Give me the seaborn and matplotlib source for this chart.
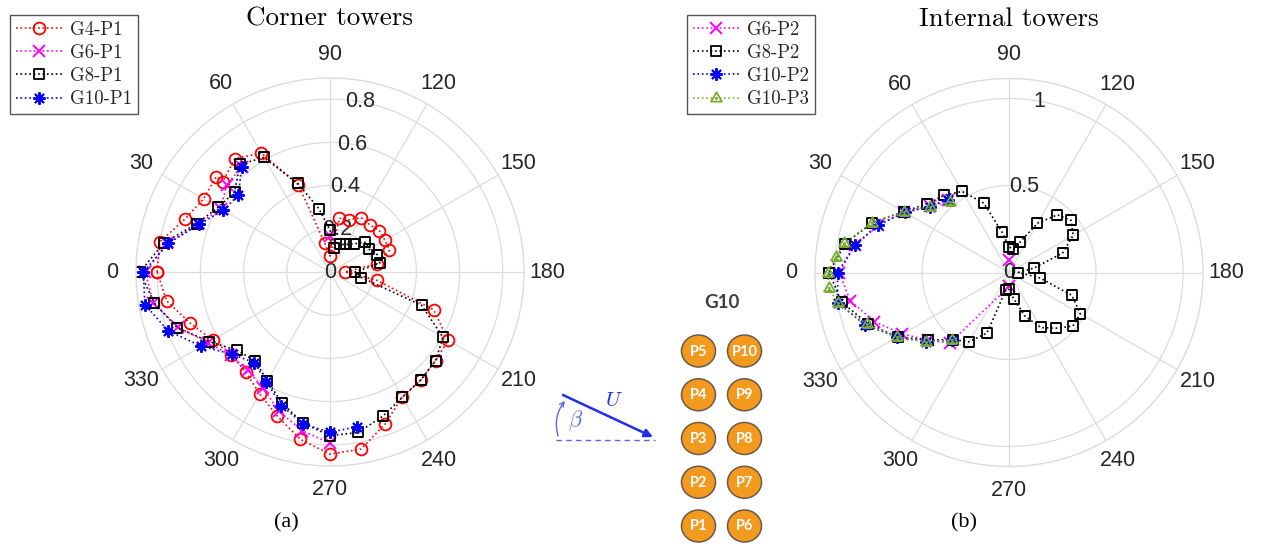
import numpy as np
import pandas as pd
import matplotlib
matplotlib.use("Agg")
import matplotlib.pyplot as plt
from matplotlib.path import Path
from matplotlib.patches import Ellipse
import seaborn as sns

sns.set_theme(style="white")
plt.rcParams["font.family"] = ["Liberation Sans", "DejaVu Sans"]
plt.rcParams["mathtext.fontset"] = "cm"
plt.rcParams["axes.unicode_minus"] = False

# ---------------- data: wind angle beta (deg) and normalised response ----------------
full_beta = list(range(0, 361, 10))

# Corner towers
g4_p1_beta = [0, 10, 20, 30, 40, 40, 50, 60, 70, 80, 90, 100, 110, 120, 130, 140, 150, 160,
              170, 180, 190, 200, 210, 220, 230, 240, 250, 260, 270, 280, 290, 300, 310,
              320, 330, 340, 350, 360]
g4_p1_r = [0.80, 0.80, 0.715, 0.676, 0.687, 0.649, 0.685, 0.635, 0.43, 0.134, 0.074, 0.253,
           0.257, 0.29, 0.286, 0.298, 0.294, 0.293, 0.22, 0.069, 0.22, 0.51, 0.632, 0.638,
           0.653, 0.668, 0.748, 0.832, 0.843, 0.787, 0.711, 0.651, 0.606, 0.596, 0.628,
           0.69, 0.768, 0.80]

g6_p1_beta = [-90, -80, -70, -60, -50, -40, -30, -20, -10, 0, 10, 20, 30, 40, 50, 90]
g6_p1_r = [0.793, 0.745, 0.687, 0.62, 0.593, 0.60, 0.653, 0.748, 0.83, 0.855, 0.765, 0.648,
           0.585, 0.625, 0.636, 0.168]
g6_p1_seg = [0] * 15 + [1]

g8_p1_beta = full_beta
g8_p1_r = [0.88, 0.78, 0.656, 0.598, 0.576, 0.65, 0.612, 0.436, 0.298, 0.194, 0.115, 0.136,
           0.147, 0.17, 0.214, 0.21, 0.233, 0.234, 0.116, 0.148, 0.451, 0.604, 0.638, 0.653,
           0.67, 0.711, 0.754, 0.758, 0.711, 0.647, 0.581, 0.538, 0.563, 0.645, 0.753,
           0.826, 0.88]

g10_p1_beta = [-100, -90, -80, -70, -60, -50, -40, -30, -20, -10, 0, 10, 20, 30, 40, 50]
g10_p1_r = [0.727, 0.742, 0.714, 0.658, 0.588, 0.547, 0.592, 0.687, 0.797, 0.87, 0.864,
            0.76, 0.645, 0.57, 0.554, 0.636]

# Internal towers
g6_p2_beta = [90, -90, -50, -40, -30, -20, -10, 0, 10, 20, 30, 40, 50]
g6_p2_r = [0.072, 0.08, 0.53, 0.605, 0.707, 0.824, 0.928, 0.975, 0.90, 0.80, 0.695, 0.595,
           0.545]
g6_p2_seg = [0] + [1] * 12

g8_p2_beta = full_beta
g8_p2_r = [1.034, 0.957, 0.836, 0.70, 0.614, 0.58, 0.538, 0.424, 0.238, 0.148, 0.136, 0.187,
           0.327, 0.433, 0.466, 0.426, 0.328, 0.146, 0.054, 0.181, 0.385, 0.473, 0.479,
           0.418, 0.365, 0.266, 0.152, 0.097, 0.10, 0.37, 0.46, 0.503, 0.605, 0.739, 0.862,
           0.977, 1.034]

g10_p2_beta = [-50, -40, -30, -20, -10, 0, 10, 20, 30, 40, 50]
g10_p2_r = [0.506, 0.62, 0.743, 0.88, 1.0, 0.985, 0.90, 0.80, 0.69, 0.59, 0.545]

g10_p3_beta = [-50, -40, -30, -20, -10, -5, 0, 5, 10, 20, 30, 40, 50]
g10_p3_r = [0.506, 0.62, 0.74, 0.87, 1.0, 1.04, 1.04, 1.0, 0.963, 0.84, 0.70, 0.59, 0.53]

# axis ticks
theta_ticks = list(range(0, 360, 30))
corner_rticks = [0, 0.2, 0.4, 0.6, 0.8]
corner_rlabels = ["0", "0.2", "0.4", "0.6", "0.8"]
internal_rticks = [0, 0.5, 1]
internal_rlabels = ["0", "0.5", "1"]

# G10 layout schematic
tower_cols = [["P5", "P4", "P3", "P2", "P1"], ["P10", "P9", "P8", "P7", "P6"]]


# ---------------- markers ----------------
def dotted_marker(outer, d=0.09):
    """Closed outline with a tiny centre dot (drawn as a second sub-path)."""
    outer = list(outer)
    inner = [(-d, -d), (d, -d), (d, d), (-d, d)]
    verts = outer + [outer[0]] + inner + [inner[0]]
    codes = ([Path.MOVETO] + [Path.LINETO] * (len(outer) - 1) + [Path.CLOSEPOLY]
             + [Path.MOVETO] + [Path.LINETO] * 3 + [Path.CLOSEPOLY])
    return Path(verts, codes)


square_dot = dotted_marker([(-1, -1), (1, -1), (1, 1), (-1, 1)])
tri_dot = dotted_marker([(0, 1), (-0.866, -0.5), (0.866, -0.5)], d=0.08)

RED, MAG, BLK, BLU, GRN = "#ff0000", "#ff00ff", "#000000", "#0000ff", "#77ac30"
styles = {
    "G4-P1": dict(color=RED, marker="o", ms=8.5, mew=1.3),
    "G6-P1": dict(color=MAG, marker="x", ms=8.5, mew=1.4),
    "G8-P1": dict(color=BLK, marker=square_dot, ms=7.5, mew=1.3),
    "G10-P1": dict(color=BLU, marker=(8, 2, 0), ms=9, mew=1.4),
    "G6-P2": dict(color=MAG, marker="x", ms=8.5, mew=1.4),
    "G8-P2": dict(color=BLK, marker=square_dot, ms=7.5, mew=1.3),
    "G10-P2": dict(color=BLU, marker=(8, 2, 0), ms=9, mew=1.4),
    "G10-P3": dict(color=GRN, marker=tri_dot, ms=9, mew=1.3),
}


def draw_series(ax, name, beta, r, seg=None):
    st = styles[name]
    if seg is None:
        seg = [0] * len(beta)
    df = pd.DataFrame({"theta": np.deg2rad(beta), "r": r, "seg": seg})
    sns.lineplot(data=df, x="theta", y="r", units="seg", estimator=None, sort=False,
                 ax=ax, legend=False, color=st["color"], marker=st["marker"],
                 markersize=st["ms"], markerfacecolor="none", markeredgecolor=st["color"],
                 markeredgewidth=st["mew"], linestyle=":", linewidth=1.2, label=name)
    return ax.get_lines()[-1]


GRID = "#dcdcdc"
TXT = "#262626"


def style_polar(ax, rmax, rticks, rlabels):
    ax.set_theta_zero_location("W")
    ax.set_theta_direction(-1)
    ax.set_thetagrids(theta_ticks, [str(t) for t in theta_ticks])
    ax.set_ylim(0, rmax)
    ax.set_yticks(rticks[1:])
    ax.set_yticklabels([])
    ax.grid(True, color=GRID, linewidth=0.9)
    ax.spines["polar"].set_color(GRID)
    ax.spines["polar"].set_linewidth(1.0)
    ax.tick_params(axis="x", labelsize=15.5, labelcolor=TXT, pad=10, length=0)
    ax.tick_params(axis="y", length=0)
    ax.set_xlabel("")
    ax.set_ylabel("")
    for rv, lab in zip(rticks, rlabels):
        ax.text(np.deg2rad(100), rv, lab, ha="center", va="center", fontsize=15.5,
                color=TXT, zorder=1)


W, H = 1262, 550
fig = plt.figure(figsize=(W / 100, H / 100), dpi=100)

R_PX = 194
ax1 = fig.add_axes([(330 - R_PX) / W, (H - 272 - R_PX) / H, 2 * R_PX / W, 2 * R_PX / H],
                   projection="polar")
ax2 = fig.add_axes([(1009 - R_PX) / W, (H - 272.5 - R_PX) / H, 2 * R_PX / W, 2 * R_PX / H],
                   projection="polar")

h1 = [draw_series(ax1, "G4-P1", g4_p1_beta, g4_p1_r),
      draw_series(ax1, "G6-P1", g6_p1_beta, g6_p1_r, g6_p1_seg),
      draw_series(ax1, "G8-P1", g8_p1_beta, g8_p1_r),
      draw_series(ax1, "G10-P1", g10_p1_beta, g10_p1_r)]
h2 = [draw_series(ax2, "G6-P2", g6_p2_beta, g6_p2_r, g6_p2_seg),
      draw_series(ax2, "G8-P2", g8_p2_beta, g8_p2_r),
      draw_series(ax2, "G10-P2", g10_p2_beta, g10_p2_r),
      draw_series(ax2, "G10-P3", g10_p3_beta, g10_p3_r)]

style_polar(ax1, 0.898, corner_rticks, corner_rlabels)
style_polar(ax2, 1.115, internal_rticks, internal_rlabels)

title_y = 1 + 53 / 388
ax1.set_title("Corner towers", fontfamily="cmr10", fontsize=19.5, y=title_y, pad=0,
              color="#000000")
ax2.set_title("Internal towers", fontfamily="cmr10", fontsize=19.5, y=title_y, pad=0,
              color="#000000")

leg_kw = dict(loc="upper left", frameon=True, fancybox=False, borderaxespad=0,
              prop={"family": "cmr10", "size": 13.5}, handlelength=2.5,
              handletextpad=0.4, labelspacing=0.28, borderpad=0.3, framealpha=1)
lg1 = fig.legend(h1, [h.get_label() for h in h1], bbox_to_anchor=(10 / W, 1 - 15 / H),
                 **leg_kw)
lg2 = fig.legend(h2, [h.get_label() for h in h2], bbox_to_anchor=(687 / W, 1 - 15 / H),
                 **leg_kw)
for lg in (lg1, lg2):
    lg.get_frame().set_edgecolor("#555555")
    lg.get_frame().set_linewidth(1.0)

# ---------------- G10 layout schematic and wind direction ----------------
dg = fig.add_axes([540 / W, 0, 260 / W, 270 / H])
dg.set_xlim(540, 800)
dg.set_ylim(550, 280)
dg.axis("off")

col_x = [698.5, 744.5]
row_y0, row_dy = 351, 43.75
for cx, names in zip(col_x, tower_cols):
    for i, nm in enumerate(names):
        cy = row_y0 + i * row_dy
        dg.add_patch(Ellipse((cx, cy), 34, 32, facecolor="#f39a1e", edgecolor="#6a5a48",
                             linewidth=1.1))
        dg.text(cx, cy + 0.5, nm, ha="center", va="center", color="white",
                fontfamily="Lato", fontweight="bold", fontsize=10.5)
dg.text(721.5, 303, "G10", ha="center", va="center", color="#404040",
        fontfamily="Lato", fontweight="bold", fontsize=13.5)

WIND = "#1f2ef2"
WIND2 = "#5566f2"
dg.plot([556, 655], [440, 440], linestyle=(0, (4, 3)), color=WIND2, linewidth=1.0)
dg.annotate("", xy=(653, 437), xytext=(563, 395),
            arrowprops=dict(arrowstyle="-|>", color=WIND, lw=1.8, mutation_scale=12,
                            shrinkA=0, shrinkB=0))
dg.annotate("", xy=(565, 401), xytext=(558, 436),
            arrowprops=dict(arrowstyle="->", color=WIND2, lw=1.0, mutation_scale=8,
                            shrinkA=0, shrinkB=0, connectionstyle="arc3,rad=-0.25"))
dg.text(576, 421, r"$\beta$", ha="center", va="center", color=WIND2, fontsize=16)
dg.text(614, 401, r"$U$", ha="center", va="center", color=WIND, fontsize=15)

fig.text(286 / W, 1 - 523 / H, "(a)", ha="center", va="center", fontfamily="Liberation Serif",
         fontsize=16, color="#000000")
fig.text(964 / W, 1 - 523 / H, "(b)", ha="center", va="center", fontfamily="Liberation Serif",
         fontsize=16, color="#000000")

fig.savefig("out.png", dpi=100, facecolor="white")
